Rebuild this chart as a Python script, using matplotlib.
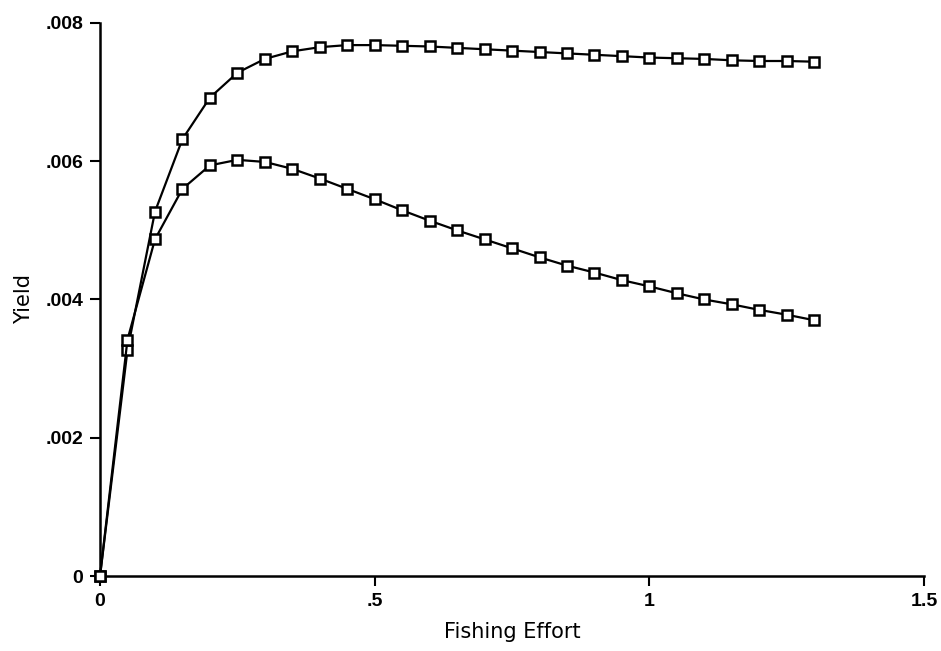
import matplotlib
matplotlib.use("Agg")
import matplotlib.pyplot as plt

# fishing effort levels (same for both curves)
effort = [0.0, 0.05, 0.1, 0.15, 0.2, 0.25, 0.3, 0.35, 0.4, 0.45, 0.5, 0.55, 0.6, 0.65,
          0.7, 0.75, 0.8, 0.85, 0.9, 0.95, 1.0, 1.05, 1.1, 1.15, 1.2, 1.25, 1.3]

# yield values
yield_upper = [0.0, 0.00327, 0.00527, 0.00632, 0.00692, 0.00728, 0.00748, 0.00759,
               0.00765, 0.00768, 0.00768, 0.00767, 0.00766, 0.00764, 0.00762, 0.00760,
               0.00758, 0.00756, 0.00754, 0.00752, 0.00750, 0.00749, 0.00748, 0.00746,
               0.00745, 0.00745, 0.00744]
yield_lower = [0.0, 0.00342, 0.00487, 0.00560, 0.00594, 0.00602, 0.00599, 0.00589,
               0.00575, 0.00560, 0.00545, 0.00529, 0.00514, 0.00500, 0.00487, 0.00474,
               0.00461, 0.00449, 0.00439, 0.00428, 0.00419, 0.00409, 0.00400, 0.00393,
               0.00385, 0.00378, 0.00370]

x_ticks = [0, 0.5, 1.0, 1.5]
x_tick_labels = ['0', '.5', '1', '1.5']
y_ticks = [0, 0.002, 0.004, 0.006, 0.008]
y_tick_labels = ['0', '.002', '.004', '.006', '.008']

fig = plt.figure(figsize=(9.41, 6.51), dpi=100)
ax = fig.add_axes([0.1063, 0.1152, 0.8757, 0.8495])

for series in (yield_upper, yield_lower):
    ax.plot(effort, series, color='black', linewidth=1.6, marker='s',
            markersize=6.5, markerfacecolor='white', markeredgecolor='black',
            markeredgewidth=1.8, clip_on=False, zorder=3)

ax.set_xlim(0, 1.5)
ax.set_ylim(0, 0.008)
ax.set_xticks(x_ticks)
ax.set_xticklabels(x_tick_labels)
ax.set_yticks(y_ticks)
ax.set_yticklabels(y_tick_labels)

for side in ('top', 'right'):
    ax.spines[side].set_visible(False)
for side in ('left', 'bottom'):
    ax.spines[side].set_linewidth(1.8)

ax.tick_params(direction='out', length=7, width=1.5, labelsize=14, pad=5)
for lab in ax.get_xticklabels() + ax.get_yticklabels():
    lab.set_fontweight('bold')
    lab.set_family('Liberation Sans')

ax.set_xlabel('Fishing Effort', fontsize=15, family='DejaVu Sans', labelpad=9)
ax.set_ylabel('Yield', fontsize=15, family='DejaVu Sans', labelpad=8)

fig.savefig('out.png', dpi=100)
